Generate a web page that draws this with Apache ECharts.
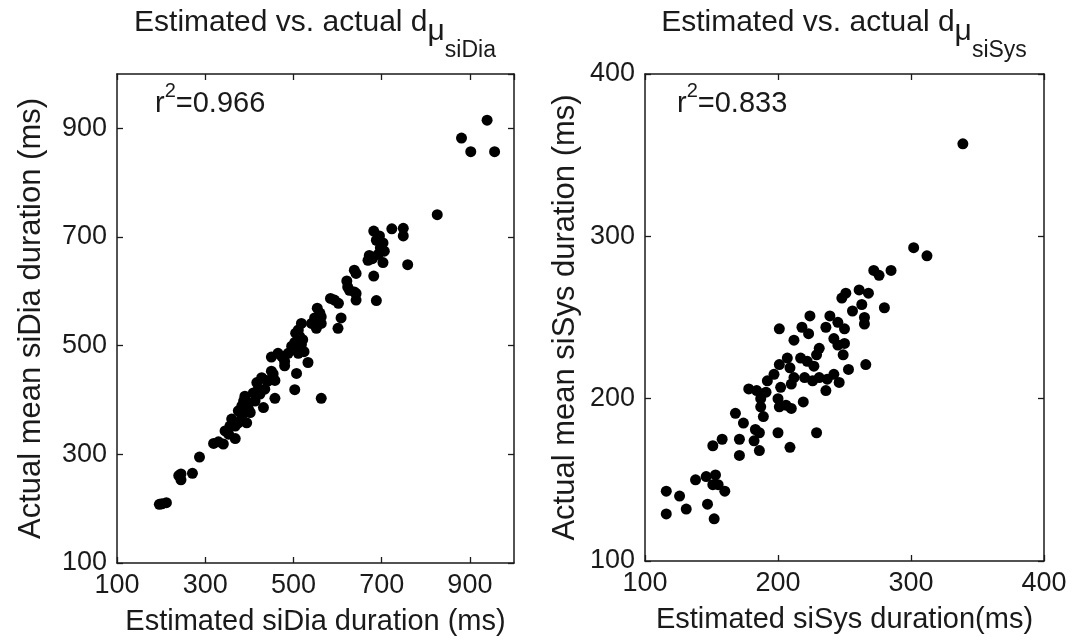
<!DOCTYPE html>
<html>
<head>
<meta charset="utf-8">
<script src="https://cdn.jsdelivr.net/npm/echarts@6/dist/echarts.min.js"></script>
<style>
html,body{margin:0;padding:0;background:#fff;}
#c{width:1077px;height:644px;}
</style>
</head>
<body>
<div id="c"></div>
<script>
// Left panel: estimated vs actual siDia duration (ms)
const diaEst = [939,881,902,956,826,682,723,749,749,688,703,706,692,669,703,759,682,638,642,621,627,642,642,688,584,602,608,601,554,560,548,541,552,518,511,505,503,518,524,511,502,533,465,450,480,480,507,503,563,458,450,428,443,417,420,409,432,390,398,383,375,360,356,345,368,394,402,319,341,287,271,245,245,240,196,212,202,383,398,413,424,435,439,454,458,474,488,496,514,521,563,563,593,623,638,672,679,697,695,368,353,375,387,330];
const diaAct = [915,882,857,857,741,711,715,716,702,694,689,674,668,657,653,649,628,639,633,619,602,596,584,583,587,578,551,532,569,560,551,541,532,541,529,523,506,502,489,486,499,469,486,479,471,463,449,419,403,403,453,441,435,432,419,413,386,407,395,389,380,365,352,343,329,358,377,320,319,295,265,264,253,261,208,211,209,371,383,398,411,420,436,448,436,480,486,499,517,511,541,553,584,608,599,666,660,680,702,352,337,358,398,323];
// Right panel: estimated vs actual siSys duration (ms)
const sysEst = [339,302,312,272,276,285,251,248,261,268,263,256,280,265,265,239,224,245,250,236,218,223,212,201,242,250,245,231,249,229,217,207,201,197,209,212,222,227,231,266,253,242,246,237,226,220,210,202,192,178,184,191,187,187,189,183,186,182,186,200,201,210,206,219,236,200,229,209,168,174,171,171,158,151,138,146,153,151,155,160,116,126,116,131,147,152];
const sysAct = [357,293,288,279,276,279,265,262,267,265,258,254,256,250,246,251,251,247,243,244,244,240,236,243,237,234,233,231,227,227,225,225,221,215,219,213,223,220,213,221,218,215,210,212,211,213,209,207,211,206,205,204,200,195,189,181,179,174,168,200,195,194,196,198,205,179,179,170,191,185,175,165,175,171,150,152,153,147,147,143,143,140,129,132,135,126];
// Axis settings
const diaTicks = {min: 100, max: 1000, interval: 200};
const sysTicks = {min: 100, max: 400, interval: 100};
const titles = [
  {main: 'Estimated vs. actual d', sub: 'siDia'},
  {main: 'Estimated vs. actual d', sub: 'siSys'}
];
const r2Labels = ['=0.966', '=0.833'];
const xNames = ['Estimated siDia duration (ms)', 'Estimated siSys duration(ms)'];
const yNames = ['Actual mean siDia duration (ms)', 'Actual mean siSys duration (ms)'];

const FONT = '"Liberation Sans", Arial, Helvetica, sans-serif';
const INK = '#1a1a1a';

const zip = (a, b) => a.map((v, i) => [v, b[i]]);

const grids = [
  {left: 117, top: 74, width: 397, height: 489},
  {left: 645, top: 74, width: 399, height: 487}
];

function mainAxis(gi, ticks, pos, name, isY, showMax) {
  return {
    type: 'value', gridIndex: gi, position: pos,
    min: ticks.min, max: ticks.max, interval: ticks.interval,
    name: name, nameLocation: 'middle',
    nameGap: isY ? (gi === 0 ? 70 : 64) : 44,
    nameTextStyle: {fontFamily: FONT, fontSize: isY ? 31 : 29, color: INK},
    axisLine: {show: true, onZero: false, lineStyle: {color: INK, width: 1.5}},
    axisTick: {show: true, inside: true, length: 6, lineStyle: {color: INK, width: 1.3}},
    axisLabel: {show: true, fontFamily: FONT, fontSize: 27, color: INK, margin: isY ? 10 : 9,
      showMaxLabel: showMax, showMinLabel: true},
    splitLine: {show: false}
  };
}
function mirrorAxis(gi, ticks, pos) {
  return {
    type: 'value', gridIndex: gi, position: pos,
    min: ticks.min, max: ticks.max, interval: ticks.interval,
    axisLine: {show: true, onZero: false, lineStyle: {color: INK, width: 1.5}},
    axisTick: {show: true, inside: true, length: 6, lineStyle: {color: INK, width: 1.3}},
    axisLabel: {show: false},
    splitLine: {show: false}
  };
}

const titleRich = {
  a: {fontFamily: FONT, fontSize: 30, fontWeight: 'normal', color: INK, verticalAlign: 'top', lineHeight: 34},
  mu: {fontFamily: FONT, fontSize: 30, fontWeight: 'normal', color: INK, verticalAlign: 'top', lineHeight: 34, padding: [9, 0, 0, 0]},
  sub: {fontFamily: FONT, fontSize: 23, fontWeight: 'normal', color: INK, verticalAlign: 'top', lineHeight: 34, padding: [31, 0, 0, 0]}
};
const r2Rich = {
  a: {fontFamily: FONT, fontSize: 29, fontWeight: 'normal', color: INK, verticalAlign: 'top', lineHeight: 36, padding: [8, 0, 0, 0]},
  sup: {fontFamily: FONT, fontSize: 20, fontWeight: 'normal', color: INK, verticalAlign: 'top', lineHeight: 36}
};

const option = {
  animation: false,
  backgroundColor: '#fff',
  title: [
    {text: '{a|' + titles[0].main + '}{mu|μ}{sub|' + titles[0].sub + '}', left: 315, top: 8, padding: 0,
      textAlign: 'center', textStyle: {fontWeight: 'normal', rich: titleRich}},
    {text: '{a|' + titles[1].main + '}{mu|μ}{sub|' + titles[1].sub + '}', left: 844, top: 8, padding: 0,
      textAlign: 'center', textStyle: {fontWeight: 'normal', rich: titleRich}},
    {text: '{a|r}{sup|2}{a|' + r2Labels[0] + '}', left: 155, top: 81, padding: 0,
      textStyle: {fontWeight: 'normal', rich: r2Rich}},
    {text: '{a|r}{sup|2}{a|' + r2Labels[1] + '}', left: 677, top: 81, padding: 0,
      textStyle: {fontWeight: 'normal', rich: r2Rich}}
  ],
  grid: grids,
  xAxis: [
    mainAxis(0, diaTicks, 'bottom', xNames[0], false, false),
    mirrorAxis(0, diaTicks, 'top'),
    mainAxis(1, sysTicks, 'bottom', xNames[1], false, true),
    mirrorAxis(1, sysTicks, 'top')
  ],
  yAxis: [
    mainAxis(0, diaTicks, 'left', yNames[0], true, false),
    mirrorAxis(0, diaTicks, 'right'),
    mainAxis(1, sysTicks, 'left', yNames[1], true, true),
    mirrorAxis(1, sysTicks, 'right')
  ],
  series: [
    {type: 'scatter', xAxisIndex: 0, yAxisIndex: 0, data: zip(diaEst, diaAct),
      symbol: 'circle', symbolSize: 11, itemStyle: {color: '#000', opacity: 1}},
    {type: 'scatter', xAxisIndex: 2, yAxisIndex: 2, data: zip(sysEst, sysAct),
      symbol: 'circle', symbolSize: 11, itemStyle: {color: '#000', opacity: 1}}
  ]
};

const chart = echarts.init(document.getElementById('c'), null, {renderer: 'canvas'});
chart.setOption(option);
</script>
</body>
</html>
